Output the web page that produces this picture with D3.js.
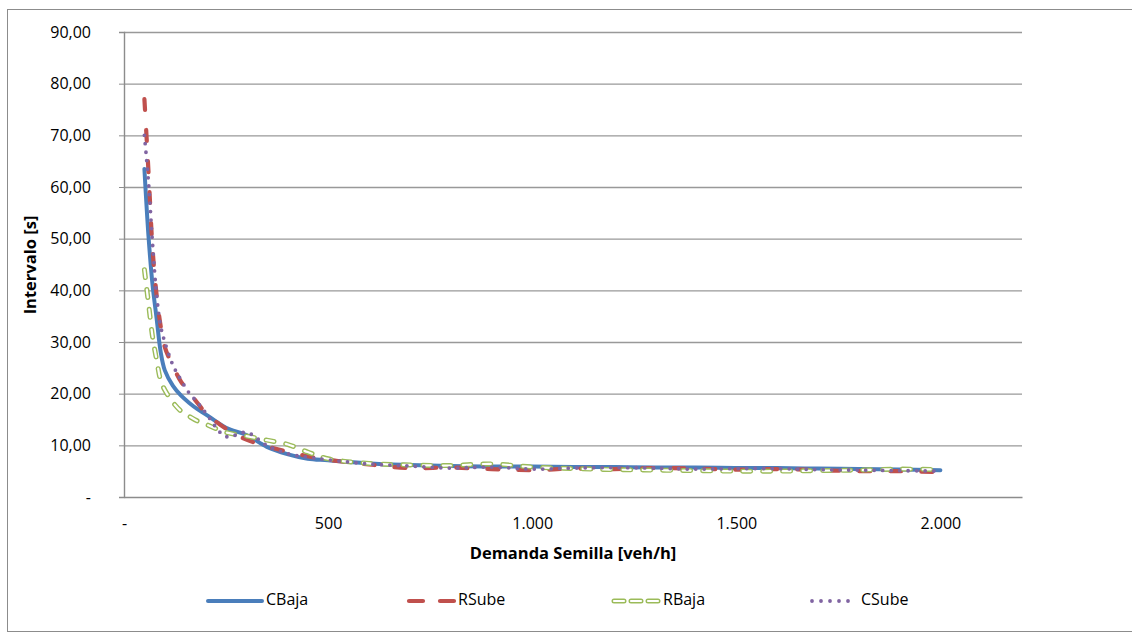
<!DOCTYPE html>
<html>
<head>
<meta charset="utf-8">
<script src="https://cdn.jsdelivr.net/npm/d3@7"></script>
<style>
  body { margin: 0; background: #fff; }
  text { font-family: "Open Sans", sans-serif; fill: #000; }
  .axis path, .axis line { stroke: #8c8c8c; }
  .grid line { stroke: #999; stroke-width: 1.4; }
  .grid path { stroke: none; }
  .title { font-weight: bold; font-size: 16.5px; }
</style>
</head>
<body>
<script>
// Data
let demand = [50, 60, 70, 80, 90, 100, 120, 140, 160, 180, 200, 250, 300, 350, 400, 450, 500,
  600, 700, 800, 900, 1000, 1100, 1200, 1300, 1400, 1500, 1600, 1700, 1800, 1900, 2000];

let cBaja = [63.5, 50.5, 41, 34.5, 28, 24.5, 21.5, 19.6, 18.2, 17.0, 16.0, 13.4, 12.0, 9.7, 8.3, 7.4, 7.1,
  6.5, 6.2, 6.0, 5.9, 5.9, 5.8, 5.8, 5.7, 5.7, 5.6, 5.6, 5.5, 5.4, 5.3, 5.2];
let rSube = [77, 63, 48, 39, 33, 29, 25.3, 22.3, 20.3, 18.2, 16.3, 13.2, 11.1, 9.8, 8.8, 7.9, 7.2,
  6.3, 5.6, 5.7, 5.4, 5.2, 5.5, 5.4, 5.6, 5.5, 5.3, 5.4, 5.2, 5.0, 5.0, 4.8];
let rBaja = [44, 37.5, 31, 26.5, 22.5, 20.7, 18.3, 16.6, 15.6, 14.7, 14.1, 12.5, 11.8, 11.0, 10.2, 8.7, 7.4,
  6.5, 6.2, 6.1, 6.4, 5.8, 5.5, 5.3, 5.2, 5.1, 5.0, 5.0, 5.1, 5.2, 5.4, 5.3];
let cSube = [70, 61, 49, 39, 33, 30, 25.5, 22.6, 20.1, 18.3, 16.3, 11.7, 12.5, 10.0, 8.4, 7.7, 7.2,
  6.4, 6.0, 5.6, 5.8, 5.4, 5.6, 5.7, 5.6, 5.4, 5.5, 5.5, 5.3, 5.2, 5.1, 5.0];

let seriesNames = ["CBaja", "RSube", "RBaja", "CSube"];
let xTicks = [0, 500, 1000, 1500, 2000];
let yTicks = [0, 10, 20, 30, 40, 50, 60, 70, 80, 90];

// Basic props
let w = 1132, h = 641;
let pLeft = 124, pRight = 1022, pTop = 32, pBottom = 497;

// Spanish number format
let es = d3.formatLocale({decimal: ",", thousands: ".", grouping: [3], currency: ["", ""]});
let fmtY = d => d === 0 ? "-" : es.format(",.2f")(d);
let fmtX = d => d === 0 ? "-" : es.format(",d")(d);

let svg = d3.select("body")
  .append("svg")
  .attr("width", w)
  .attr("height", h);

// chart frame
svg.append("rect")
  .attr("x", 7.5).attr("y", 9.5)
  .attr("width", 1140).attr("height", 622)
  .attr("fill", "none")
  .attr("stroke", "#8c8c8c");

// Scales
let xScale = d3.scaleLinear().domain([0, 2200]).range([pLeft, pRight]);
let yScale = d3.scaleLinear().domain([0, 90]).range([pBottom, pTop]);

// Gridlines
svg.append("g")
  .attr("class", "grid")
  .attr("transform", "translate(" + pLeft + ",0)")
  .call(d3.axisLeft(yScale).tickValues(yTicks.slice(1)).tickSize(-(pRight - pLeft)).tickFormat(""));

// Axes
let yAxis = d3.axisLeft(yScale)
  .tickValues(yTicks)
  .tickSize(5)
  .tickPadding(28)
  .tickFormat(fmtY);

svg.append("g")
  .attr("class", "axis")
  .attr("transform", "translate(" + pLeft + ",0)")
  .call(yAxis)
  .call(g => g.selectAll("text").attr("font-size", 16).attr("font-family", "Open Sans"))
  .call(g => g.select(".domain").attr("stroke-width", 1.4));

let xAxis = d3.axisBottom(xScale)
  .tickValues(xTicks)
  .tickSize(0)
  .tickPadding(21)
  .tickFormat(fmtX);

svg.append("g")
  .attr("class", "axis")
  .attr("transform", "translate(0," + pBottom + ")")
  .call(xAxis)
  .call(g => g.selectAll("text").attr("font-size", 16).attr("font-family", "Open Sans"))
  .call(g => g.select(".domain").attr("stroke-width", 1.4));

// Axis titles
svg.append("text")
  .attr("class", "title")
  .attr("transform", "translate(32,265) rotate(-90)")
  .attr("text-anchor", "middle")
  .attr("dominant-baseline", "middle")
  .text("Intervalo [s]");

svg.append("text")
  .attr("class", "title")
  .attr("x", (pLeft + pRight) / 2)
  .attr("y", 555)
  .attr("text-anchor", "middle")
  .attr("dominant-baseline", "middle")
  .text("Demanda Semilla [veh/h]");

// Line generator
let line = d3.line()
  .x((d, i) => xScale(demand[i]))
  .y(d => yScale(d))
  .curve(d3.curveCatmullRom.alpha(0.5));

let plot = svg.append("g");

// CBaja - solid blue
plot.append("path").datum(cBaja)
  .attr("d", line).attr("fill", "none")
  .attr("stroke", "#4a7ebb").attr("stroke-width", 4)
  .attr("stroke-linejoin", "round").attr("stroke-linecap", "round");

// RSube - red dashes
plot.append("path").datum(rSube)
  .attr("d", line).attr("fill", "none")
  .attr("stroke", "#c0504d").attr("stroke-width", 4.2)
  .attr("stroke-dasharray", "11 20").attr("stroke-linecap", "round");

// RBaja - hollow green dashes
plot.append("path").datum(rBaja)
  .attr("d", line).attr("fill", "none")
  .attr("stroke", "#9bbb59").attr("stroke-width", 5)
  .attr("stroke-dasharray", "8 12").attr("stroke-linecap", "round");
plot.append("path").datum(rBaja)
  .attr("d", line).attr("fill", "none")
  .attr("stroke", "#fff").attr("stroke-width", 2.2)
  .attr("stroke-dasharray", "8 12").attr("stroke-linecap", "round");

// CSube - purple dots
plot.append("path").datum(cSube)
  .attr("d", line).attr("fill", "none")
  .attr("stroke", "#8064a2").attr("stroke-width", 3.8)
  .attr("stroke-dasharray", "0 8.5").attr("stroke-linecap", "round");

// Legend
let legendX = [208, 407, 612, 810];
let legendY = 601;
let lg = svg.append("g");

seriesNames.forEach((name, i) => {
  let x0 = legendX[i], x1 = legendX[i] + (i === 0 ? 54 : 47);
  if (i === 0) {
    lg.append("line").attr("x1", x0).attr("x2", x1).attr("y1", legendY).attr("y2", legendY)
      .attr("stroke", "#4a7ebb").attr("stroke-width", 4).attr("stroke-linecap", "round");
  } else if (i === 1) {
    lg.append("line").attr("x1", x0 + 2).attr("x2", x1).attr("y1", legendY).attr("y2", legendY)
      .attr("stroke", "#c0504d").attr("stroke-width", 4.2)
      .attr("stroke-dasharray", "14 17").attr("stroke-linecap", "round");
  } else if (i === 2) {
    [0, 1].forEach(k => {
      lg.append("line").attr("x1", x0 + 2).attr("x2", x1).attr("y1", legendY).attr("y2", legendY)
        .attr("stroke", k ? "#fff" : "#9bbb59").attr("stroke-width", k ? 2.2 : 5)
        .attr("stroke-dasharray", "10 7").attr("stroke-linecap", "round");
    });
  } else {
    lg.append("line").attr("x1", x0 + 2).attr("x2", x1).attr("y1", legendY).attr("y2", legendY)
      .attr("stroke", "#8064a2").attr("stroke-width", 3.8)
      .attr("stroke-dasharray", "0 9").attr("stroke-linecap", "round");
  }
  lg.append("text")
    .attr("x", x1 + 4)
    .attr("y", legendY)
    .attr("dominant-baseline", "middle")
    .attr("font-size", 16)
    .text(name);
});
</script>
</body>
</html>
